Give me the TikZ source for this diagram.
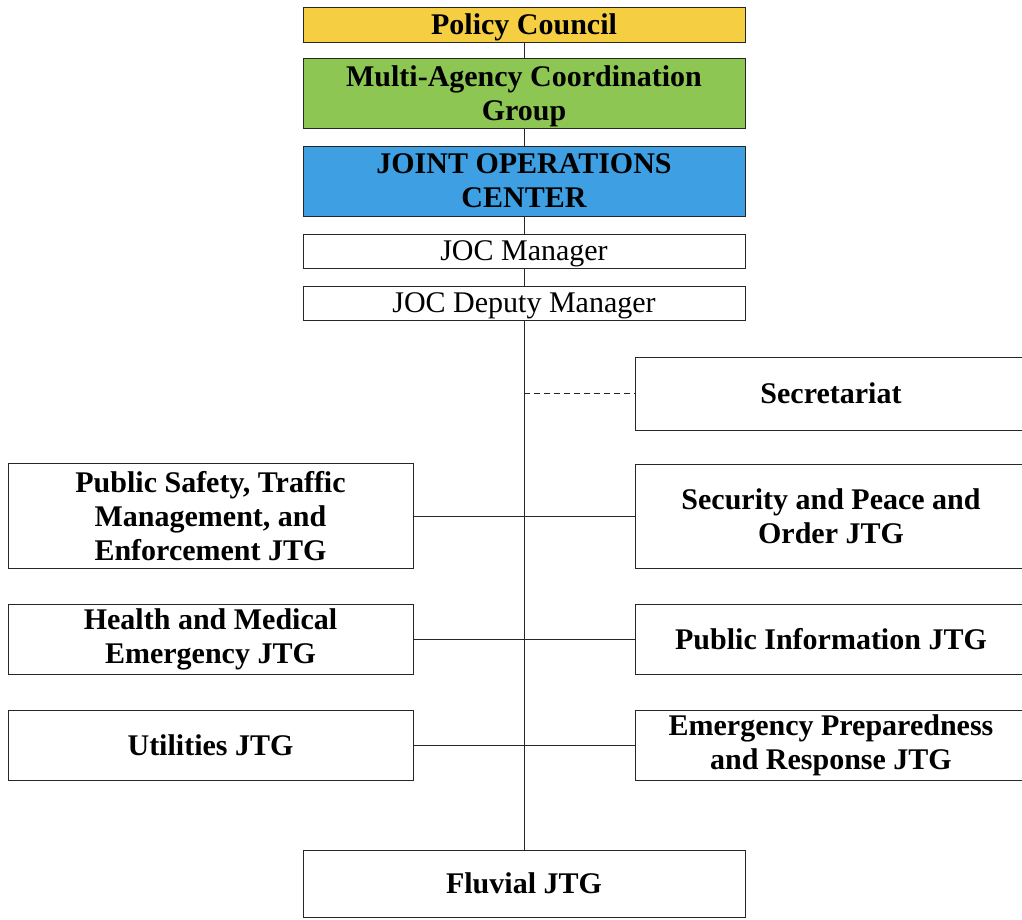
\documentclass[tikz,border=0pt]{standalone}
\usepackage{fontspec}
\setmainfont{Liberation Serif}
\usepackage{tikz}

\definecolor{councilyellow}{RGB}{246,206,66}
\definecolor{groupgreen}{RGB}{141,198,82}
\definecolor{centerblue}{RGB}{62,160,226}

\begin{document}
\begin{tikzpicture}[x=1pt,y=-1pt,
    box/.style={draw=black!85, line width=1pt, align=center, inner sep=0pt,
                font=\fontsize{30}{34}\selectfont\bfseries},
    topbox/.style={box, minimum width=442pt},
    leftbox/.style={box, minimum width=405pt},
    rightbox/.style={box, minimum width=392pt},
    regular/.style={font=\fontsize{30}{34}\selectfont},
    lowtext/.style={text depth=0pt},
    link/.style={draw=black!85, line width=1pt}]
    \useasboundingbox (0,0) rectangle (1022,919);

    % top column
    \node[topbox, lowtext, fill=councilyellow, minimum height=35pt] (council) at (524,24.5) {Policy Council};
    \node[topbox, lowtext, fill=groupgreen, minimum height=70pt] (macg) at (524,93) {Multi-Agency Coordination\\Group};
    \node[topbox, fill=centerblue, minimum height=70pt] (joc) at (524,181) {JOINT OPERATIONS\\CENTER};
    \node[topbox, regular, lowtext, minimum height=34pt] (manager) at (524,251) {JOC Manager};
    \node[topbox, regular, lowtext, minimum height=34pt] (deputy) at (524,303) {JOC Deputy Manager};

    % staff
    \node[rightbox, minimum height=73pt] (secretariat) at (831,393.5) {Secretariat};

    % task groups
    \node[leftbox, minimum height=105pt] (safety) at (210.5,516) {Public Safety, Traffic\\Management, and\\Enforcement JTG};
    \node[rightbox, minimum height=104pt] (security) at (831,516) {Security and Peace and\\Order JTG};
    \node[leftbox, minimum height=70pt] (health) at (210.5,639) {Health and Medical\\Emergency JTG};
    \node[rightbox, minimum height=70pt] (info) at (831,639) {Public Information JTG};
    \node[leftbox, minimum height=70pt] (utilities) at (210.5,745) {Utilities JTG};
    \node[rightbox, minimum height=70pt] (prep) at (831,745) {Emergency Preparedness\\and Response JTG};
    \node[topbox, minimum height=67pt] (fluvial) at (524,883.5) {Fluvial JTG};

    \coordinate (secjoint) at (524,393.5);

    \draw[link] (council)--(macg);
    \draw[link] (macg)--(joc);
    \draw[link] (joc)--(manager);
    \draw[link] (manager)--(deputy);
    \draw[link] (deputy)--(fluvial);
    \draw[link, dash pattern=on 6pt off 4pt] (secjoint)--(secretariat);
    \draw[link] (safety)--(security);
    \draw[link] (health)--(info);
    \draw[link] (utilities)--(prep);
\end{tikzpicture}
\end{document}
